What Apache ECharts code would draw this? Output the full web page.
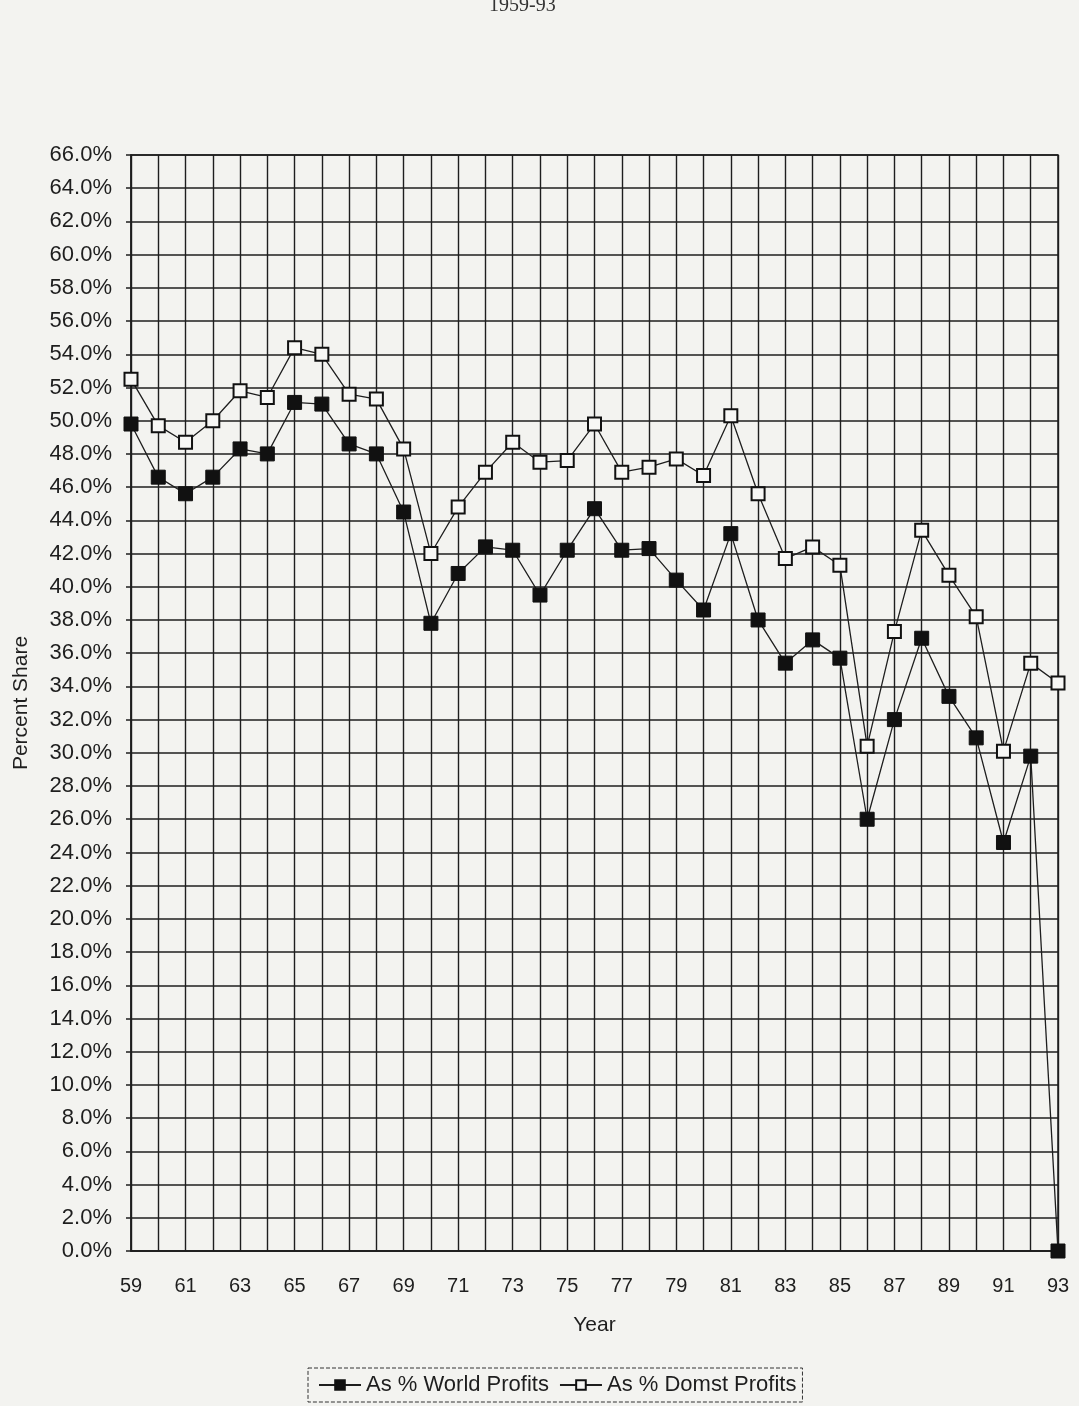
<!DOCTYPE html>
<html>
<head>
<meta charset="utf-8">
<style>
  html, body { margin: 0; padding: 0; background: #f3f3f0; }
  #chart { width: 1079px; height: 1406px; }
</style>
<script src="https://cdn.jsdelivr.net/npm/echarts@6/dist/echarts.min.js"></script>
</head>
<body>
<div id="chart"></div>
<script>
// Years 1959-1993 (two-digit labels)
const years = ['59','60','61','62','63','64','65','66','67','68','69','70','71','72','73','74','75','76',
               '77','78','79','80','81','82','83','84','85','86','87','88','89','90','91','92','93'];
// As % World Profits (filled squares)
const worldProfits = [49.8, 46.6, 45.6, 46.6, 48.3, 48.0, 51.1, 51.0, 48.6, 48.0, 44.5, 37.8, 40.8, 42.4, 42.2, 39.5, 42.2, 44.7,
                      42.2, 42.3, 40.4, 38.6, 43.2, 38.0, 35.4, 36.8, 35.7, 26.0, 32.0, 36.9, 33.4, 30.9, 24.6, 29.8, 0.0];
// As % Domst Profits (hollow squares)
const domstProfits = [52.5, 49.7, 48.7, 50.0, 51.8, 51.4, 54.4, 54.0, 51.6, 51.3, 48.3, 42.0, 44.8, 46.9, 48.7, 47.5, 47.6, 49.8,
                      46.9, 47.2, 47.7, 46.7, 50.3, 45.6, 41.7, 42.4, 41.3, 30.4, 37.3, 43.4, 40.7, 38.2, 30.1, 35.4, 34.2];
const seriesNames = ['As % World Profits', 'As % Domst Profits'];

const chart = echarts.init(document.getElementById('chart'), null, { renderer: 'canvas' });
const ink = '#1e1e1e';
const font = 'Liberation Sans, Arial, sans-serif';

chart.setOption({
  backgroundColor: '#f3f3f0',
  animation: false,
  title: {
    text: '1959-93',
    left: 484,
    top: -9,
    textStyle: { fontFamily: 'Liberation Serif, Times New Roman, serif', fontSize: 20, fontWeight: 'normal', color: '#333' }
  },
  grid: { left: 131, right: 21, top: 155, bottom: 155, containLabel: false, outerBoundsMode: 'none',
          show: true, borderColor: ink, borderWidth: 1.5 },
  legend: {
    data: seriesNames,
    left: 308,
    top: 1368,
    padding: [6, 6, 6, 10],
    itemGap: 10,
    itemWidth: 42,
    itemHeight: 12,
    borderColor: '#333',
    borderWidth: 1,
    borderType: 'dashed',
    textStyle: { fontFamily: font, fontSize: 22, color: ink }
  },
  xAxis: {
    type: 'category',
    data: years,
    boundaryGap: false,
    name: 'Year',
    nameLocation: 'middle',
    nameGap: 64,
    nameTextStyle: { fontFamily: font, fontSize: 21, color: ink },
    axisLine: { lineStyle: { color: ink, width: 1.5 } },
    axisTick: { show: false },
    axisLabel: { interval: 1, margin: 25, fontFamily: font, fontSize: 20, color: ink },
    splitLine: { show: true, interval: 0, lineStyle: { color: ink, width: 1.4 } }
  },
  yAxis: {
    type: 'value',
    min: 0,
    max: 66,
    interval: 2,
    name: 'Percent Share',
    nameLocation: 'middle',
    nameGap: 99,
    nameTextStyle: { fontFamily: font, fontSize: 21, color: ink },
    axisLine: { show: true, lineStyle: { color: ink, width: 1.5 } },
    axisTick: { show: true, length: 5, lineStyle: { color: ink, width: 1.5 } },
    axisLabel: { margin: 19, fontFamily: font, fontSize: 22, color: ink, formatter: v => v.toFixed(1) + '%' },
    splitLine: { show: true, lineStyle: { color: ink, width: 1.6 } }
  },
  series: [
    {
      name: seriesNames[0],
      type: 'line',
      data: worldProfits,
      symbol: 'rect',
      symbolSize: 14,
      showAllSymbol: true,
      lineStyle: { color: ink, width: 1.3 },
      itemStyle: { color: '#111', borderColor: '#111', borderWidth: 1 },
      z: 3
    },
    {
      name: seriesNames[1],
      type: 'line',
      data: domstProfits,
      symbol: 'rect',
      symbolSize: 13,
      showAllSymbol: true,
      lineStyle: { color: ink, width: 1.3 },
      itemStyle: { color: '#f7f7f5', borderColor: '#111', borderWidth: 2 },
      z: 4
    }
  ]
});
</script>
</body>
</html>
